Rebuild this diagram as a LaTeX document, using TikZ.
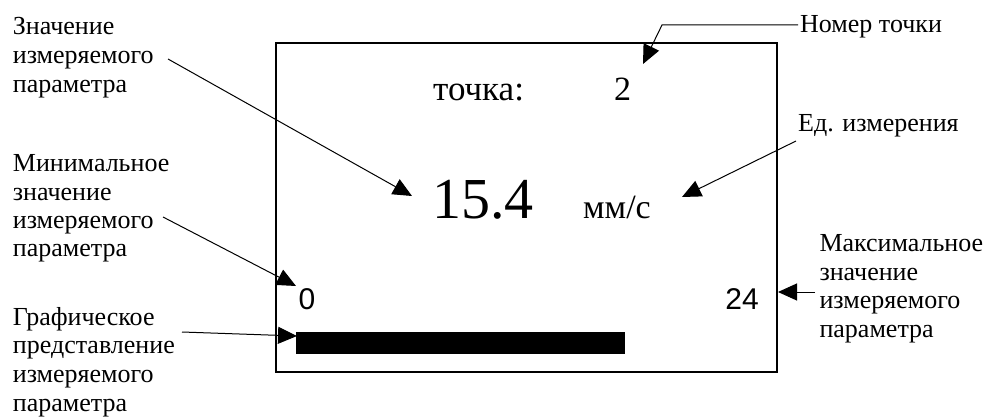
\documentclass[tikz,border=0pt]{standalone}
\usepackage{fontspec}
\setmainfont{Liberation Serif}
\newfontfamily\lcdsans{Liberation Sans}
\usetikzlibrary{arrows.meta}

\begin{document}
\begin{tikzpicture}[x=1pt,y=-1pt,
  % multi-line labels are anchored at the baseline of their last line
  lbl/.style={font=\fontsize{26}{28.6}\selectfont, align=left, inner sep=0pt, anchor=base west},
  txt/.style={inner sep=0pt, anchor=base west},
  pointer/.style={line width=1pt, -{Triangle[length=19pt,width=17pt]}},
  screen/.style={line width=1.6pt}]
\useasboundingbox (0,0) rectangle (990,417);

% display frame
\draw[screen] (276,43) rectangle (777,372);

% display contents
\node[txt, font=\fontsize{35}{38}\selectfont] (pointword) at (433,100.7) {точка:};
\node[txt, font=\fontsize{34}{38}\selectfont] (pointnum) at (614,100.7) {2};
\node[txt, font=\fontsize{58}{62}\selectfont] (value) at (432,218) {15.4};
\node[txt, font=\fontsize{34}{38}\selectfont] (unit) at (583,218) {мм/с};
\node[txt, font=\lcdsans\fontsize{30}{34}\selectfont] (minval) at (298.5,309) {0};
\node[txt, font=\lcdsans\fontsize{30}{34}\selectfont, anchor=base east] (maxval) at (759,309) {24};
\fill (296,332) rectangle (625,354);

% callout labels
\node[lbl, font=\fontsize{26}{29.2}\selectfont] (lblVal) at (12.7,92.7) {Значение\\измеряемого\\параметра};
\node[lbl, font=\fontsize{26}{28.3}\selectfont] (lblMin) at (12.7,256.7) {Минимальное\\значение\\измеряемого\\параметра};
\node[lbl] (lblGraph) at (12.7,411) {Графическое\\представление\\измеряемого\\параметра};
\node[lbl] (lblNum) at (800,33) {Номер точки};
\node[lbl] (lblUnit) at (798,131.7) {Ед. измерения};
\node[lbl, font=\fontsize{26}{28.4}\selectfont] (lblMax) at (819.3,337) {Максимальное\\значение\\измеряемого\\параметра};

% pointer ends
\coordinate (fromVal) at (168,59);
\coordinate (tipVal) at (412,196);
\coordinate (fromNum) at (798,25);
\coordinate (bendNum) at (662,25);
\coordinate (tipNum) at (643,64);
\coordinate (fromUnit) at (796,141);
\coordinate (tipUnit) at (682,197);
\coordinate (fromMin) at (163,217);
\coordinate (tipMin) at (296,286);
\coordinate (fromGraph) at (182,332);
\coordinate (tipGraph) at (297,336);
\coordinate (fromMax) at (815,292);
\coordinate (tipMax) at (778,292);

% pointers
\draw[pointer] (fromVal) -- (tipVal);
\draw[pointer] (fromNum) -- (bendNum) -- (tipNum);
\draw[pointer] (fromUnit) -- (tipUnit);
\draw[pointer] (fromMin) -- (tipMin);
\draw[pointer] (fromGraph) -- (tipGraph);
\draw[pointer] (fromMax) -- (tipMax);
\end{tikzpicture}
\end{document}
